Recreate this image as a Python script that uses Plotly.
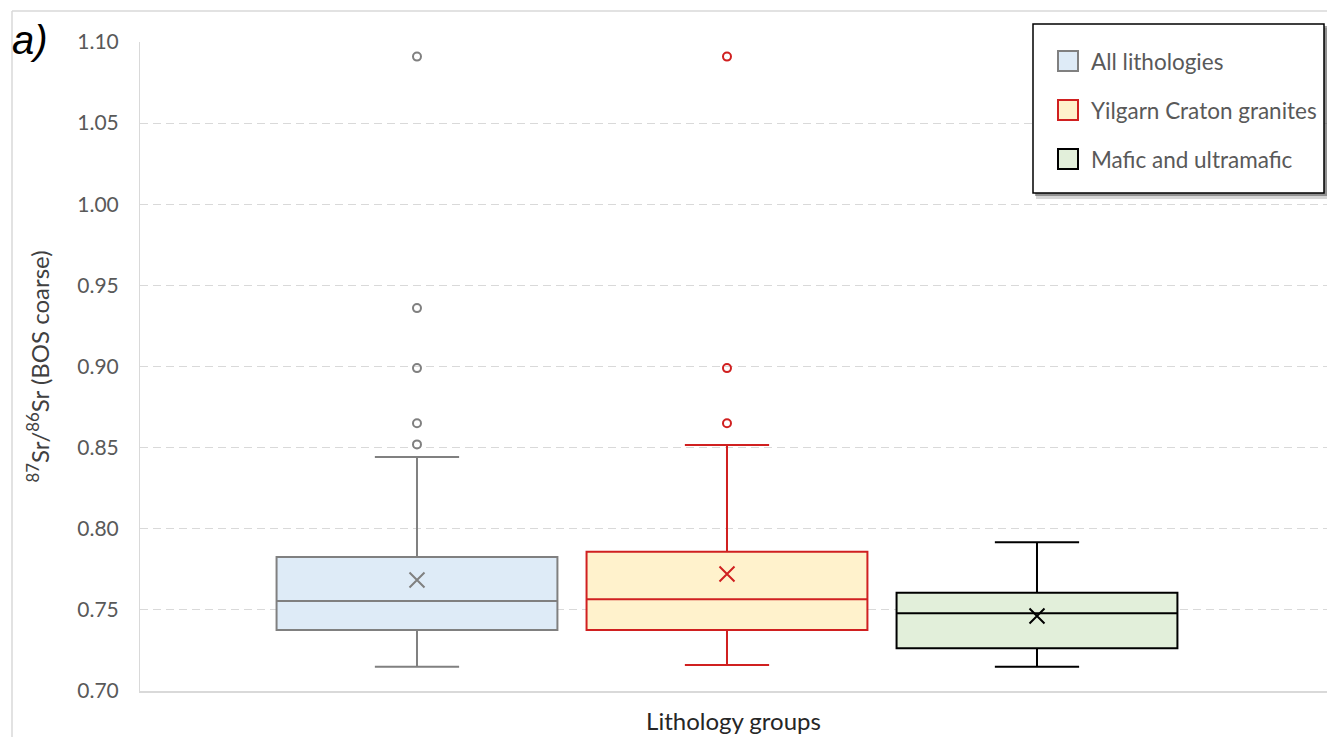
import plotly.graph_objects as go

# ---- data ----
groups = ["All lithologies", "Yilgarn Craton granites", "Mafic and ultramafic"]
positions = [0, 1, 2]
q1 = [0.7376, 0.7376, 0.7263]
median = [0.7555, 0.7565, 0.7479]
q3 = [0.7826, 0.7859, 0.7606]
lowerfence = [0.715, 0.716, 0.715]
upperfence = [0.8442, 0.8516, 0.7917]
means = [0.7684, 0.7721, 0.7462]
outliers = [[1.091, 0.936, 0.899, 0.865, 0.852], [1.091, 0.899, 0.865], []]
yticks = [0.70, 0.75, 0.80, 0.85, 0.90, 0.95, 1.00, 1.05, 1.10]

line_colors = ["#808080", "#d02020", "#000000"]
fill_colors = ["#deebf7", "#fff2cc", "#e2efda"]

# page body has an 8px margin on every side; design in reference-image pixel coordinates
OFF = 8
W, H = 1335 - 2 * OFF, 753 - 2 * OFF - 8
ML, MR, MT, MB = 140 - OFF, 0, 42 - OFF, H - (691 - OFF)
PW, PH = W - ML - MR, H - MT - MB
X0 = -0.8935
XSPAN = PW / 310.0


def px(x):
    return (x - OFF - ML) / PW


def py(y):
    return 1 - (y - OFF - MT) / PH


fig = go.Figure()
for i, g in enumerate(groups):
    fig.add_trace(go.Box(
        x=[positions[i]], q1=[q1[i]], median=[median[i]], q3=[q3[i]],
        lowerfence=[lowerfence[i]], upperfence=[upperfence[i]],
        name=g, width=0.906, whiskerwidth=0.3,
        fillcolor=fill_colors[i], line=dict(color=line_colors[i], width=2),
        showlegend=False, hoverinfo="skip",
    ))
for i, g in enumerate(groups):
    fig.add_trace(go.Scatter(
        x=[positions[i]], y=[means[i]], mode="markers", name=g + " mean",
        marker=dict(symbol="x-thin", size=15, color=line_colors[i],
                    line=dict(color=line_colors[i], width=2)),
        showlegend=False,
    ))
    if outliers[i]:
        fig.add_trace(go.Scatter(
            x=[positions[i]] * len(outliers[i]), y=outliers[i], mode="markers",
            name=g + " outliers",
            marker=dict(symbol="circle-open", size=8, color=line_colors[i],
                        line=dict(color=line_colors[i], width=2)),
            showlegend=False,
        ))

shapes = [
    # outer chart frame (left and top edges visible)
    dict(type="line", xref="paper", yref="paper", x0=px(12), x1=px(12), y0=py(11), y1=py(760),
         line=dict(color="#d9d9d9", width=1.5), layer="below"),
    dict(type="line", xref="paper", yref="paper", x0=px(12), x1=px(1340), y0=py(11), y1=py(11),
         line=dict(color="#d9d9d9", width=1.5), layer="below"),
    # legend shadow
    dict(type="rect", xref="paper", yref="paper", x0=px(1036), x1=px(1330), y0=py(28), y1=py(199),
         line=dict(width=0), fillcolor="rgba(120,120,120,0.30)", layer="above"),
    dict(type="rect", xref="paper", yref="paper", x0=px(1035), x1=px(1328), y0=py(26), y1=py(196),
         line=dict(width=0), fillcolor="rgba(60,60,60,0.45)", layer="above"),
    # legend box
    dict(type="rect", xref="paper", yref="paper", x0=px(1033), x1=px(1324), y0=py(24), y1=py(193),
         line=dict(color="#000000", width=1.5), fillcolor="#ffffff", layer="above"),
]
annotations = [dict(text="<i>a)</i>", xref="paper", yref="paper", x=px(10), y=py(40),
                    xanchor="left", yanchor="middle", showarrow=False,
                    font=dict(family="Liberation Sans, Arial, sans-serif", size=40, color="#000000"))]

legend_y = [61, 110, 159]
for i, g in enumerate(groups):
    yc = legend_y[i]
    shapes.append(dict(type="rect", xref="paper", yref="paper",
                       x0=px(1058), x1=px(1078), y0=py(yc - 10), y1=py(yc + 10),
                       line=dict(color=line_colors[i], width=2), fillcolor=fill_colors[i],
                       layer="above"))
    annotations.append(dict(text=g, xref="paper", yref="paper", x=px(1089), y=py(yc),
                            xanchor="left", yanchor="middle", showarrow=False,
                            font=dict(size=22.5, color="#595959")))

fig.update_layout(
    width=W, height=H,
    margin=dict(l=ML, r=MR, t=MT, b=MB),
    paper_bgcolor="white", plot_bgcolor="white",
    boxmode="overlay",
    showlegend=False,
    font=dict(family="Lato, Carlito, Calibri, sans-serif", color="#595959", size=21),
    xaxis=dict(range=[X0, X0 + XSPAN], showticklabels=False, showgrid=False, zeroline=False,
               showline=True, linecolor="#d9d9d9", linewidth=1.5, ticks="",
               title=dict(text="Lithology groups", font=dict(size=24, color="#262626"), standoff=21)),
    yaxis=dict(range=[0.70, 1.10], tickvals=yticks, tickformat=".2f", showgrid=True,
               gridcolor="#d9d9d9", griddash="8px,5px", gridwidth=1.2, zeroline=False,
               showline=True, linecolor="#d9d9d9", linewidth=1, ticks="", ticklabelstandoff=16,
               tickfont=dict(size=21, color="#595959"),
               title=dict(text="<sup>87</sup>Sr/<sup>86</sup>Sr (BOS coarse)",
                          font=dict(size=24, color="#404040"), standoff=20)),
    shapes=shapes,
    annotations=annotations,
)

fig.write_html("out.html")
